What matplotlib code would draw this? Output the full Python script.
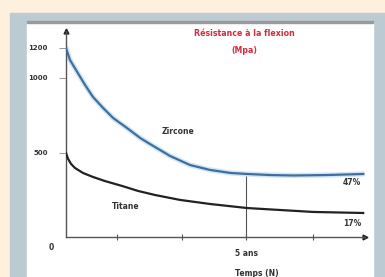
import numpy as np
import matplotlib.pyplot as plt
from matplotlib.patches import Rectangle

# years after placement, flexural strength (MPa)
zircone_t = [0, 0.11, 0.31, 0.53, 0.75, 1.03, 1.31, 1.69, 2.06, 2.33, 2.89, 3.44,
             4.0, 4.56, 5.03, 5.67, 6.31, 7.25, 8.25]
zircone_v = [1200, 1120, 1040, 953, 873, 800, 733, 667, 600, 560, 480, 420,
             387, 367, 360, 353, 350, 353, 360]
titane_t = [0, 0.06, 0.14, 0.25, 0.47, 0.75, 1.08, 1.56, 2.0, 2.47, 3.17, 4.0,
            5.03, 5.94, 6.86, 8.25]
titane_v = [500, 460, 427, 400, 367, 340, 313, 280, 247, 220, 187, 160,
            133, 120, 107, 100]

yticks = [500, 1000, 1200]
xticks = [1.42, 3.22, 5, 6.86]
xticklabels = ['', '', '5 ans', '']
mark_t = 5

W, H = 385, 277
fig = plt.figure(figsize=(W / 100, H / 100), dpi=100, facecolor='#fdf0dc')

# background panels
fig.patches.append(Rectangle((10 / W, 0), 375 / W, 264 / H, transform=fig.transFigure,
                             color='#bccbd2', zorder=-3))
fig.patches.append(Rectangle((27 / W, 0), 346 / W, 255 / H, transform=fig.transFigure,
                             color='white', zorder=-2))
fig.patches.append(Rectangle((27 / W, 254 / H), 346 / W, 2 / H, transform=fig.transFigure,
                             color='#9a9a9a', zorder=-1))

ax = fig.add_axes([66 / W, 40 / H, 299 / W, 206 / H])
ax.set_facecolor('none')
ax.set_xlim(0, 8.3)
ax.set_ylim(-60, 1313)

for s in ['top', 'right']:
    ax.spines[s].set_visible(False)
for s in ['left', 'bottom']:
    ax.spines[s].set_color('#555555')
    ax.spines[s].set_linewidth(1.0)

ax.plot([0], [1313], marker='^', color='#222222', markersize=3.5, clip_on=False)
ax.plot([8.3], [-60], marker='>', color='#222222', markersize=3.5, clip_on=False)

# curves
ax.plot(zircone_t, zircone_v, color='#d3e6f5', lw=3.8, solid_joinstyle='round',
        solid_capstyle='round', zorder=2)
ax.plot(zircone_t, zircone_v, color='#3f6f9e', lw=1.6, solid_joinstyle='round', zorder=3)
ax.plot(titane_t, titane_v, color='#222222', lw=1.6, solid_joinstyle='round', zorder=3)

ax.plot([mark_t, mark_t], [-60, np.interp(mark_t, zircone_t, zircone_v)],
        color='#555555', lw=0.8, zorder=1)

ax.set_yticks(yticks)
ax.set_yticklabels([str(v) for v in yticks])
ax.set_xticks(xticks)
ax.set_xticklabels(xticklabels)
ax.tick_params(axis='y', length=5, width=0.6, color='#888888', pad=8,
               labelsize=5, labelcolor='#333333')
ax.tick_params(axis='x', length=5, width=0.8, color='#555555', pad=6,
               labelsize=5.5, labelcolor='#333333', direction='inout')
for lab in ax.get_xticklabels() + ax.get_yticklabels():
    lab.set_fontweight('bold')

txt = dict(fontsize=5.5, fontweight='bold', color='#333333')
ax.text(3.11, 640, 'Zircone', ha='center', va='center', **txt)
ax.text(1.65, 140, 'Titane', ha='center', va='center', **txt)
ax.text(7.94, 300, '47%', ha='center', va='center', **txt)
ax.text(7.94, 30, '17%', ha='center', va='center', **txt)
ax.text(-0.4, -130, '0', ha='center', va='center', **txt)
ax.text(5.3, -300, 'Temps (N)', ha='center', va='center', **txt)

fig.text(244 / W, 1 - 42 / H, 'Résistance à la flexion\n(Mpa)', ha='center', va='center',
         fontsize=5.7, fontweight='bold', color='#d42a3a', linespacing=2.1)

fig.savefig('out.png', dpi=100, facecolor=fig.get_facecolor())
